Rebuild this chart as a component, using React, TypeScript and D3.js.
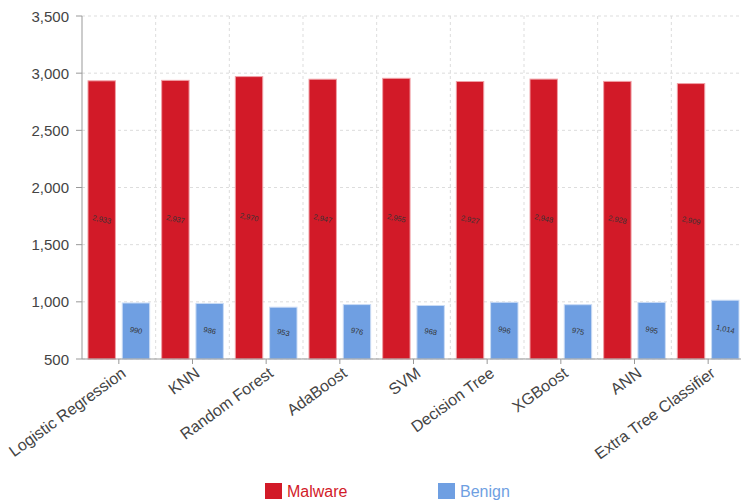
import React from "react";
import * as d3 from "d3";

const categories = [
  "Logistic Regression",
  "KNN",
  "Random Forest",
  "AdaBoost",
  "SVM",
  "Decision Tree",
  "XGBoost",
  "ANN",
  "Extra Tree Classifier",
];
const malware = [2933, 2937, 2970, 2947, 2955, 2927, 2948, 2928, 2909];
const benign = [990, 986, 953, 976, 968, 996, 975, 995, 1014];
const seriesNames = ["Malware", "Benign"];
const yTicks = [500, 1000, 1500, 2000, 2500, 3000, 3500];

const W = 741;
const H = 502;
const RED = "#d21a28";
const BLUE = "#6f9fe2";
const FONT = "'Liberation Sans', Arial, sans-serif";

export default function App() {
  const left = 82;
  const right = 745;
  const top = 16;
  const bottom = 359;

  const x = d3.scaleBand<string>().domain(categories).range([left, right]);
  const inner = d3
    .scaleBand<string>()
    .domain(seriesNames)
    .range([6, x.bandwidth() - 6])
    .paddingInner(0.2);
  const y = d3.scaleLinear().domain([500, 3500]).range([bottom, top]);
  const fmt = d3.format(",");

  const series = [
    { name: "Malware", values: malware, color: RED, stroke: "#f0a0a6" },
    { name: "Benign", values: benign, color: BLUE, stroke: "#c9dbf5" },
  ];

  return (
    <svg
      width={W}
      height={H}
      style={{ position: "absolute", left: 0, top: 0, fontFamily: FONT }}
    >
      {/* horizontal grid */}
      {yTicks.map((t) => (
        <line
          key={"g" + t}
          x1={left}
          x2={W}
          y1={y(t)}
          y2={y(t)}
          stroke="#dddddd"
          strokeDasharray="3,3"
        />
      ))}
      {/* vertical grid at band edges */}
      {categories.slice(1).map((c) => (
        <line
          key={"v" + c}
          x1={x(c)!}
          x2={x(c)!}
          y1={top}
          y2={bottom}
          stroke="#dddddd"
          strokeDasharray="3,3"
        />
      ))}

      {/* bars */}
      {series.map((s) =>
        categories.map((c, i) => {
          const bx = x(c)! + inner(s.name)!;
          const bw = inner.bandwidth();
          const by = y(s.values[i]);
          const bh = bottom - by;
          return (
            <g key={s.name + c}>
              <rect
                x={bx}
                y={by}
                width={bw}
                height={bh}
                fill={s.color}
                stroke={s.stroke}
                strokeWidth={1}
              />
              <text
                transform={`translate(${bx + bw / 2},${by + bh / 2}) rotate(12)`}
                textAnchor="middle"
                dominantBaseline="middle"
                fontSize={7.5}
                fill="#333"
              >
                {fmt(s.values[i])}
              </text>
            </g>
          );
        })
      )}

      {/* y axis */}
      <line x1={left} x2={left} y1={top} y2={bottom} stroke="#999" />
      {yTicks.map((t) => (
        <g key={"y" + t}>
          <line x1={left - 6} x2={left} y1={y(t)} y2={y(t)} stroke="#999" />
          <text
            x={left - 13}
            y={y(t)}
            textAnchor="end"
            dominantBaseline="central"
            fontSize={15}
            fill="#444"
          >
            {fmt(t)}
          </text>
        </g>
      ))}

      {/* x axis */}
      <line x1={left} x2={W} y1={bottom} y2={bottom} stroke="#999" />
      {categories.map((c) => {
        const cx = x(c)! + x.bandwidth() / 2;
        return (
          <g key={"x" + c}>
            <line x1={cx} x2={cx} y1={bottom} y2={bottom + 5} stroke="#999" />
            <text
              transform={`translate(${cx + 5},${bottom + 12}) rotate(-36)`}
              textAnchor="end"
              dominantBaseline="central"
              fontSize={16}
              fill="#444"
            >
              {c}
            </text>
          </g>
        );
      })}

      {/* legend */}
      {series.map((s, i) => {
        const lx = [265, 438][i];
        return (
          <g key={"l" + s.name}>
            <rect x={lx} y={483} width={17} height={16} fill={s.color} />
            <text x={lx + 22} y={497} fontSize={16} fill={s.color}>
              {s.name}
            </text>
          </g>
        );
      })}
    </svg>
  );
}
